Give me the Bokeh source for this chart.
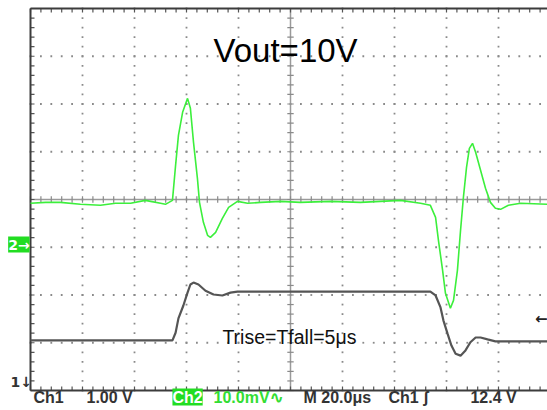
import numpy as np
from bokeh.plotting import figure
from bokeh.models import Range1d, Label
from bokeh.embed import file_html
from bokeh.resources import INLINE

# ---- data ----
# Ch1 (output voltage, V) vs time (us, trigger at screen centre)
ch1_t = [-100.0, -45.4, -44.2, -43.1, -41.2, -39.6, -38.5, -37.3, -35.4, -32.7,
         -29.6, -26.2, -23.1, -20.4, 53.8, 55.8, 57.7, 58.8, 60.4, 61.9,
         63.5, 65.4, 67.3, 69.2, 71.2, 73.1, 75.8, 78.8, 83.5, 98.8]
ch1_v = [11.95, 11.95, 12.11, 12.41, 12.68, 12.95, 13.12, 13.16, 13.12, 12.99,
         12.91, 12.89, 12.95, 12.97, 12.97, 12.89, 12.64, 12.37, 12.09, 11.84,
         11.67, 11.63, 11.74, 11.91, 12.01, 12.01, 11.97, 11.93, 11.93, 11.93]

# Ch2 (AC coupled, mV) vs time (us)
ch2_t = [-100.0, -94.2, -88.5, -80.8, -73.1, -67.3, -61.5, -55.8, -53.8, -50.0,
         -48.1, -45.4, -44.2, -43.1, -41.5, -39.6, -38.5, -37.3, -35.8, -35.0,
         -33.5, -31.9, -30.8, -28.8, -26.2, -23.8, -20.4, -16.5, -11.5, -3.8,
         3.8, 15.4, 26.9, 34.6, 42.3, 50.0, 53.8, 55.8, 56.9, 58.5,
         59.6, 61.5, 62.7, 64.2, 65.4, 66.5, 67.7, 68.8, 70.0, 71.2,
         73.1, 75.0, 76.9, 78.8, 80.8, 83.8, 88.5, 98.8]
ch2_mv = [8.80, 9.00, 9.00, 8.59, 8.38, 8.80, 8.80, 9.42, 9.21, 8.80,
          8.59, 9.42, 16.75, 23.04, 27.85, 30.78, 28.69, 21.57, 14.03, 9.00,
          4.82, 2.09, 1.68, 2.72, 5.65, 7.96, 9.21, 8.80, 9.00, 9.21,
          9.00, 9.21, 9.00, 9.21, 9.42, 8.80, 8.38, 5.86, 1.05, -5.24,
          -10.05, -13.19, -11.52, -5.24, 3.14, 10.05, 16.33, 20.31, 21.36, 19.48,
          15.71, 11.94, 9.00, 7.75, 7.54, 8.38, 8.80, 8.59]

# scope settings
US_PER_DIV = 20.0
CH1_V_PER_DIV = 1.0
CH1_CENTER_V = 14.9
CH2_MV_PER_DIV = 10.0
CH2_GROUND_DIV = -0.96
TRIG_LEVEL_V = 12.4
status_texts = ["Ch1", "1.00 V", "Ch2", "10.0mV\u223f", "M 20.0\u03bcs", "Ch1 \u0283", "12.4 V"]
status_pos_us = [-98.85, -78.46, -45.4, -29.6, 5.0, 37.7, 69.2]

# ---- canvas geometry (screen of 10 x 8 divisions, partly off the right edge) ----
W, H = 547, 410
LEFT_PX, TOP_PX = 30.0, 8.0
DIV_W, DIV_H = 52.0, 47.75
cx_px = LEFT_PX + 5 * DIV_W
cy_px = TOP_PX + 4 * DIV_H
x0 = (0 - cx_px) / DIV_W * US_PER_DIV
x1 = (W - cx_px) / DIV_W * US_PER_DIV
y_top = cy_px / DIV_H
y_bot = (cy_px - H) / DIV_H

p = figure(width=W, height=H, output_backend="svg", toolbar_location=None,
           x_range=Range1d(x0, x1), y_range=Range1d(y_bot, y_top),
           x_axis_type=None, y_axis_type=None, min_border=0)
p.outline_line_color = None
p.background_fill_color = "white"
p.border_fill_color = "white"
p.extra_y_ranges = {
    "ch1": Range1d(CH1_CENTER_V + y_bot * CH1_V_PER_DIV, CH1_CENTER_V + y_top * CH1_V_PER_DIV),
    "ch2": Range1d((y_bot - CH2_GROUND_DIV) * CH2_MV_PER_DIV, (y_top - CH2_GROUND_DIV) * CH2_MV_PER_DIV),
}

L, R = -5 * US_PER_DIV, 5 * US_PER_DIV
minor_t = np.arange(L, R + 0.01, US_PER_DIV / 5)
minor_y = np.arange(-4, 4.001, 0.2)
major_t = [t for t in np.arange(L + US_PER_DIV, R, US_PER_DIV) if abs(t) > 1e-9]
major_y = [-3, -2, -1, 1, 2, 3]

# graticule dots
dx, dy = [], []
for t in major_t:
    dx += [t] * len(minor_y); dy += list(minor_y)
for y in major_y:
    dx += list(minor_t); dy += [y] * len(minor_t)
p.scatter(dx, dy, marker="square", size=1.8, color="#8a8a8a", line_color=None)

tx = 4.0 / DIV_W * US_PER_DIV   # 4 px in time units
ty = 4.0 / DIV_H                # 4 px in div units

# centre cross with ticks
p.segment([0, L], [-4, 0], [0, R], [4, 0], line_color="#9a9a9a", line_width=1.5)
p.segment(minor_t, [-ty * 0.8] * len(minor_t), minor_t, [ty * 0.8] * len(minor_t),
          line_color="#8a8a8a", line_width=1.2)
p.segment([-tx * 0.8] * len(minor_y), minor_y, [tx * 0.8] * len(minor_y), minor_y,
          line_color="#8a8a8a", line_width=1.2)

# border ticks (inside)
p.segment(minor_t, [4] * len(minor_t), minor_t, [4 - ty] * len(minor_t),
          line_color="#555555", line_width=1.2)
p.segment(minor_t, [-4] * len(minor_t), minor_t, [-4 + ty] * len(minor_t),
          line_color="#555555", line_width=1.2)
p.segment([L] * len(minor_y), minor_y, [L + tx] * len(minor_y), minor_y,
          line_color="#555555", line_width=1.2)

# border lines
p.segment([L, L, L], [-4, 4, -4], [L, R, R], [4, 4, -4], line_color="#3c3c3c", line_width=2)

# traces
p.line(ch1_t, ch1_v, y_range_name="ch1", line_color="#555555", line_width=2.2)
p.line(ch2_t, ch2_mv, y_range_name="ch2", line_color="#3cef3c", line_width=1.6)

FONT = "Liberation Sans"
p.add_layout(Label(x=-29.6, y=3.12, text="Vout=10V", text_font=FONT,
                   text_font_size="33px", text_color="black", text_baseline="alphabetic"))
p.add_layout(Label(x=-26.2, y=-2.87, text="Trise=Tfall=5\u03bcs", text_font=FONT,
                   text_font_size="19.5px", text_color="#111111", text_baseline="alphabetic"))

# status line
y_status = (cy_px - 396.5) / DIV_H
for txt, xpos in zip(status_texts, status_pos_us):
    color = "#333333"
    bg = None
    if txt == "Ch2":
        color, bg = "white", "#22dd22"
    elif txt.startswith("10.0"):
        color = "#33dd33"
    p.add_layout(Label(x=xpos, y=y_status, text=txt, text_font=FONT, text_font_style="bold",
                       text_font_size="16px", text_color=color, text_baseline="middle",
                       background_fill_color=bg, padding=0))

# channel / trigger markers
p.add_layout(Label(x=-108.6, y=0.15, y_range_name="ch2", text="2\u2192", text_font="DejaVu Sans",
                   text_font_style="bold", text_font_size="14px", text_color="white",
                   text_baseline="middle", background_fill_color="#22dd22", padding=0))
p.add_layout(Label(x=-107.7, y=-3.83, text="1\u2193", text_font="DejaVu Sans",
                   text_font_style="bold", text_font_size="14px", text_color="#333333",
                   text_baseline="middle"))
p.add_layout(Label(x=x1, y=TRIG_LEVEL_V, y_range_name="ch1", text="\u2190",
                   text_font="DejaVu Sans", text_font_style="bold", text_font_size="15px",
                   text_color="#222222", text_baseline="middle", text_align="right"))

open("out.html", "w").write(file_html(p, INLINE))
